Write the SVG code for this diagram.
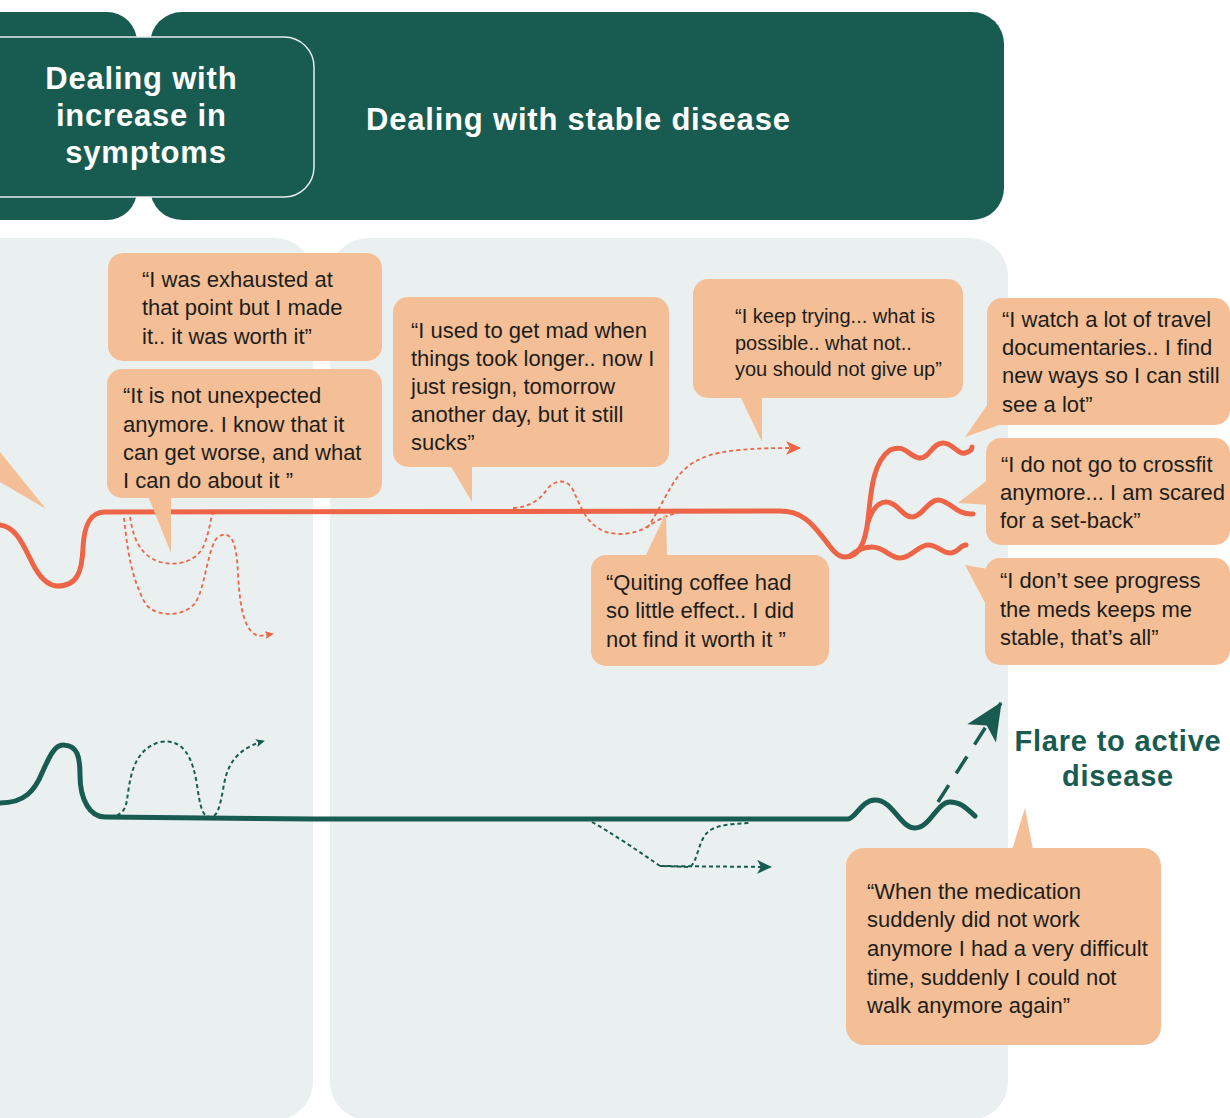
<svg xmlns="http://www.w3.org/2000/svg" width="1230" height="1118" viewBox="0 0 1230 1118">
  <style>
    .head { fill: #185b51; }
    .panel { fill: #eaf0f0; }
    .htxt { font-family: "Liberation Sans", Arial, sans-serif; font-weight: bold; font-size: 31px; letter-spacing: 0.8px; fill: #ffffff; }
    .flare { font-family: "Liberation Sans", Arial, sans-serif; font-weight: bold; font-size: 29px; letter-spacing: 0.8px; fill: #185b51; }
    .bub { fill: #f4bf96; }
    .qt { font-family: "Liberation Sans", Arial, sans-serif; font-size: 22px; fill: #1d1d1b; }
    .qs { font-size: 20px; }
    .orange { fill: none; stroke: #ee6446; stroke-width: 5; stroke-linecap: round; stroke-linejoin: round; }
    .green { fill: none; stroke: #185b51; stroke-width: 5; stroke-linecap: round; stroke-linejoin: round; }
    .odot { fill: none; stroke: #ee6446; stroke-width: 1.8; stroke-dasharray: 4 3; }
    .gdot { fill: none; stroke: #185b51; stroke-width: 2; stroke-dasharray: 4 3; }
    .gdash { fill: none; stroke: #185b51; stroke-width: 3.5; stroke-dasharray: 20 14; }
  </style>
  <defs>
    <marker id="arrOrange" markerUnits="userSpaceOnUse" markerWidth="16" markerHeight="16" refX="14" refY="7" orient="auto" viewBox="0 0 16 14">
      <path d="M0,0 L15,7 L0,14 L4,7 Z" fill="#ee6446"/>
    </marker>
    <marker id="arrOrangeSm" markerUnits="userSpaceOnUse" markerWidth="9" markerHeight="9" refX="8" refY="4" orient="auto" viewBox="0 0 9 8">
      <path d="M0,0 L9,4 L0,8 L2,4 Z" fill="#ee6446"/>
    </marker>
    <marker id="arrGreen" markerUnits="userSpaceOnUse" markerWidth="16" markerHeight="16" refX="14" refY="7" orient="auto" viewBox="0 0 16 14">
      <path d="M0,0 L15,7 L0,14 L4,7 Z" fill="#185b51"/>
    </marker>
    <marker id="arrGreenSm" markerUnits="userSpaceOnUse" markerWidth="9" markerHeight="9" refX="8" refY="4" orient="auto" viewBox="0 0 9 8">
      <path d="M0,0 L9,4 L0,8 L2,4 Z" fill="#185b51"/>
    </marker>
    <marker id="arrFlare" markerUnits="userSpaceOnUse" markerWidth="40" markerHeight="34" refX="34" refY="16" orient="auto" viewBox="0 0 36 32">
      <path d="M0,0 L35,16 L0,32 L9,16 Z" fill="#185b51"/>
    </marker>
  </defs>

  <!-- background panels -->
  <g id="panels">
    <rect class="panel" x="-40" y="238" width="353" height="882" rx="38"/>
    <rect class="panel" x="330" y="238" width="678" height="882" rx="38"/>
  </g>

  <!-- phase headers -->
  <g id="header-stable">
    <rect class="head" x="150" y="12" width="854" height="208" rx="32"/>
    <text class="htxt" x="366" y="130">Dealing with stable disease</text>
  </g>
  <g id="header-increase">
    <rect class="head" x="-40" y="12" width="177" height="208" rx="30"/>
    <rect class="head" x="-40" y="37" width="354" height="160" rx="30" stroke="#e8eeee" stroke-width="1.5"/>
    <text class="htxt" text-anchor="middle">
      <tspan x="146" y="89">Dealing with</tspan>
      <tspan x="146" y="126">increase in</tspan>
      <tspan x="146" y="163">symptoms</tspan>
    </text>
  </g>

  <!-- journey connectors -->
  <g id="connectors">
    <!-- orange trajectory -->
    <path class="orange" d="M0,525 C18,527 25,550 35,568 C42,580 50,586 58,586 C78,586 82,570 83,548 C84,525 90,512 105,512 L780,511 C805,511 815,528 825,540 C833,551 838,557 845,557 C858,557 865,545 868,520 C871,490 873,462 890,450 C905,443 910,458 920,458 C930,458 932,443 943,443 C953,443 958,455 965,453 C969,452 972,450 972,447"/>
    <path class="orange" d="M868,522 C872,510 878,502 886,502 C898,502 902,517 912,517 C922,517 928,500 938,500 C950,500 955,515 973,514"/>
    <path class="orange" d="M850,556 C858,549 864,547 872,547 C884,547 890,558 900,558 C912,558 918,545 928,545 C938,545 942,553 950,553 C958,553 960,545 966,545"/>

    <!-- orange alternative paths -->
    <path class="odot" d="M130,517 C133,535 138,555 160,562 C180,567 198,560 204,545 C210,530 210,520 213,513"/>
    <path class="odot" marker-end="url(#arrOrangeSm)" d="M124,518 C127,545 130,575 145,603 C155,618 185,617 195,603 C205,590 208,545 218,537 C232,528 237,545 238,575 C240,605 243,630 258,636 L273,634"/>
    <path class="odot" d="M513,508 C530,507 540,500 548,488 C555,480 567,478 573,490 C580,505 585,520 598,528 C610,536 630,536 645,528 C655,522 665,515 678,513"/>
    <path class="odot" marker-end="url(#arrOrange)" d="M647,528 C660,510 668,488 680,474 C695,457 715,452 740,450 C760,448 775,448 800,448"/>

    <!-- green trajectory -->
    <path class="green" d="M0,803 C25,803 35,790 42,773 C50,755 55,745 63,745 C78,745 80,758 80,775 C80,800 90,817 105,817 L313,819 L848,819 C855,819 862,800 875,800 C893,800 900,828 915,828 C930,828 937,802 950,802 C962,802 968,810 975,816"/>

    <!-- green alternative paths -->
    <path class="gdot" marker-end="url(#arrGreenSm)" d="M103,817 L113,816 C120,815 125,812 127,800 C130,780 132,750 160,742 C185,738 193,760 197,785 C200,805 202,817 210,817 C218,817 220,805 223,790 C226,770 232,750 264,741"/>
    <path class="gdot" d="M592,822 C610,832 640,852 660,866 L690,867 C697,862 698,845 705,835 C712,826 725,824 750,823"/>
    <path class="gdot" marker-end="url(#arrGreen)" d="M660,866 L771,867"/>

    <!-- flare -->
    <path class="gdash" marker-end="url(#arrFlare)" d="M938,802 L1001,703"/>
  </g>

  <!-- quotes -->
  <g id="quote-left-tail">
    <polygon class="bub" points="0,452 46,509 0,482"/>
  </g>
  <g id="quote-exhausted">
    <rect class="bub" x="108" y="253" width="274" height="108" rx="15"/>
    <text class="qt"><tspan x="142" y="287">“I was exhausted at</tspan><tspan x="142" y="315">that point but I made</tspan><tspan x="142" y="344">it.. it was worth it”</tspan></text>
  </g>
  <g id="quote-unexpected">
    <rect class="bub" x="107" y="369" width="275" height="129" rx="15"/>
    <polygon class="bub" points="148,496 171,496 171,553"/>
    <text class="qt"><tspan x="123" y="403">“It is not unexpected</tspan><tspan x="123" y="432">anymore. I know that it</tspan><tspan x="123" y="460">can get worse,  and what</tspan><tspan x="123" y="488">I can do about it ”</tspan></text>
  </g>
  <g id="quote-mad">
    <rect class="bub" x="393" y="297" width="276" height="170" rx="15"/>
    <polygon class="bub" points="450,465 472,465 472,502"/>
    <text class="qt"><tspan x="411" y="338">“I used to get mad when</tspan><tspan x="411" y="366">things took longer.. now I</tspan><tspan x="411" y="394">just resign, tomorrow</tspan><tspan x="411" y="422">another day, but it still</tspan><tspan x="411" y="450">sucks”</tspan></text>
  </g>
  <g id="quote-trying">
    <rect class="bub" x="693" y="279" width="270" height="119" rx="15"/>
    <polygon class="bub" points="740,396 762,396 762,442"/>
    <text class="qt qs"><tspan x="735" y="323">“I keep trying... what is</tspan><tspan x="735" y="350">possible.. what not..</tspan><tspan x="735" y="376">you should not give up”</tspan></text>
  </g>
  <g id="quote-travel">
    <rect class="bub" x="987" y="298" width="243" height="127" rx="15"/>
    <polygon class="bub" points="992,398 965,437 1002,424"/>
    <text class="qt"><tspan x="1002" y="327">“I watch a lot of travel</tspan><tspan x="1002" y="355">documentaries.. I find</tspan><tspan x="1002" y="383">new ways so I can still</tspan><tspan x="1002" y="412">see a lot”</tspan></text>
  </g>
  <g id="quote-crossfit">
    <rect class="bub" x="986" y="438" width="244" height="107" rx="15"/>
    <polygon class="bub" points="990,478 958,503 990,505"/>
    <text class="qt"><tspan x="1001" y="472">“I do not go to crossfit</tspan><tspan x="1000" y="500">anymore... I am scared</tspan><tspan x="1000" y="528">for a set-back”</tspan></text>
  </g>
  <g id="quote-progress">
    <rect class="bub" x="985" y="558" width="245" height="107" rx="15"/>
    <polygon class="bub" points="965,565 1005,572 990,612"/>
    <text class="qt"><tspan x="1000" y="588">“I don’t see progress</tspan><tspan x="1000" y="617">the meds keeps me</tspan><tspan x="1000" y="645">stable, that’s all”</tspan></text>
  </g>
  <g id="quote-coffee">
    <rect class="bub" x="591" y="555" width="238" height="111" rx="15"/>
    <polygon class="bub" points="645,557 666,513 667,557"/>
    <text class="qt"><tspan x="606" y="590">“Quiting coffee had</tspan><tspan x="606" y="618">so little effect.. I did</tspan><tspan x="606" y="647">not find it worth it ”</tspan></text>
  </g>
  <g id="quote-medication">
    <rect class="bub" x="846" y="848" width="315" height="197" rx="18"/>
    <polygon class="bub" points="1012,850 1025,808 1033,850"/>
    <text class="qt"><tspan x="867" y="899">“When the medication</tspan><tspan x="867" y="927">suddenly did not work</tspan><tspan x="867" y="956">anymore I had a very difficult</tspan><tspan x="867" y="985">time, suddenly I could not</tspan><tspan x="867" y="1013">walk anymore again”</tspan></text>
  </g>

  <g id="label-flare">
    <text class="flare" text-anchor="middle"><tspan x="1118" y="751">Flare to active</tspan><tspan x="1118" y="786">disease</tspan></text>
  </g>
</svg>
